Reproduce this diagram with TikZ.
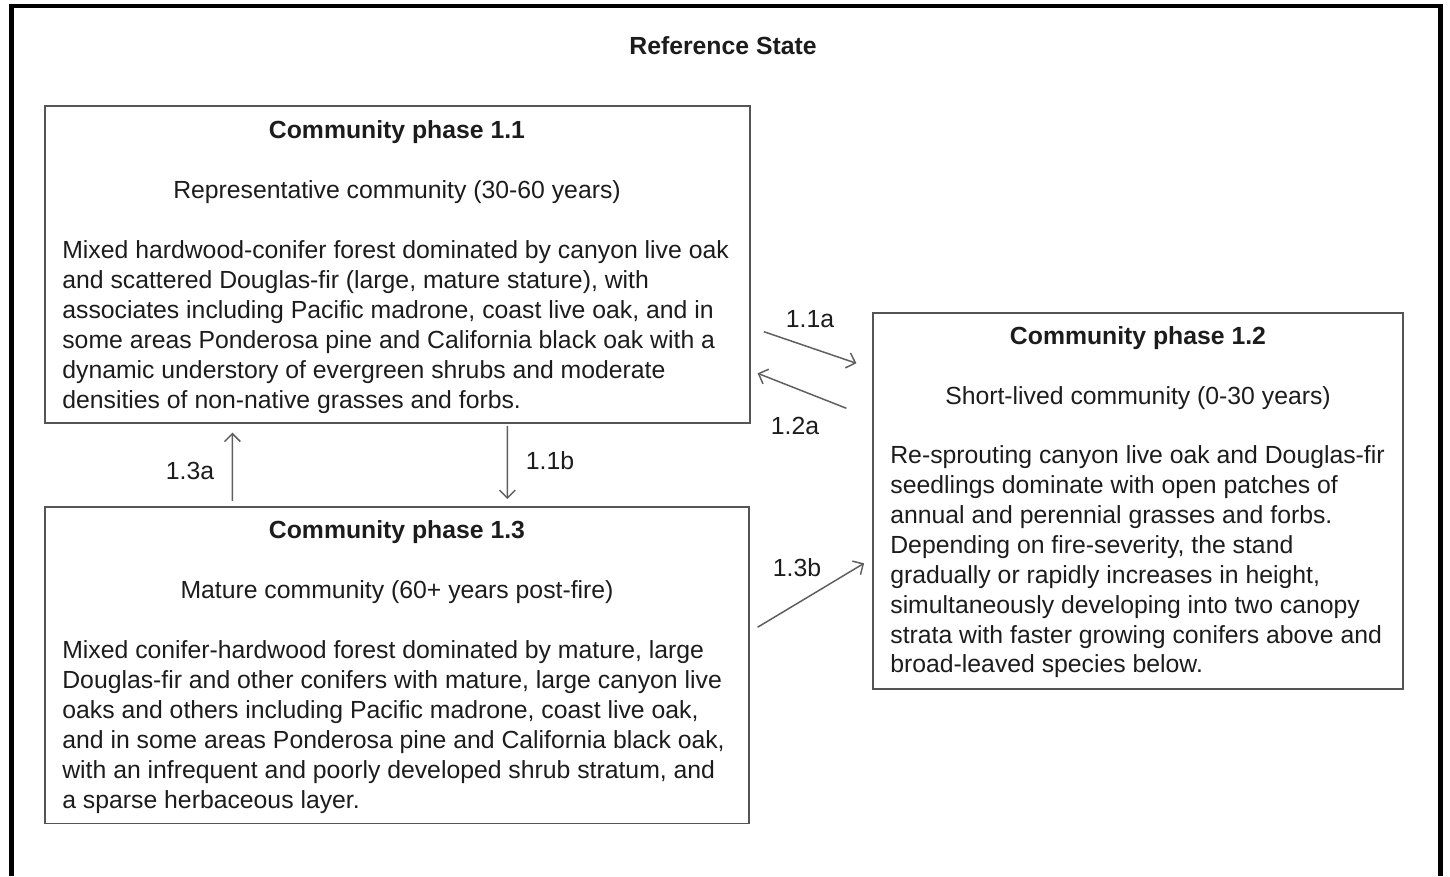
\documentclass[tikz,border=0pt]{standalone}
\usepackage{fontspec}
\setmainfont{Liberation Sans}
\usetikzlibrary{arrows.meta, calc, positioning}
\definecolor{boxgray}{RGB}{85,85,85}
\definecolor{arrowgray}{RGB}{95,95,95}
\definecolor{textdark}{RGB}{28,28,28}

\begin{document}
\begin{tikzpicture}[x=0.02cm, y=0.02cm, >={Straight Barb[length=4.5pt, width=9pt]},
    phase/.style={draw=boxgray, line width=1.1pt, inner sep=0pt},
    txt/.style={text=textdark, font=\fontsize{14.1pt}{17pt}\selectfont, inner sep=0pt},
    bold/.style={txt, font=\fontsize{14.1pt}{17pt}\selectfont\bfseries},
    body/.style={txt, align=left, anchor=west},
    trans/.style={->, arrowgray, line width=0.85pt}]
        \useasboundingbox (0,0) rectangle (1450,876);

        % Outer frame
        \draw[line width=2.3pt] (11.5,0) -- (11.5,870) -- (1440.5,870) -- (1440.5,0);
        \node[bold] (title) at (723,830) {Reference State};

        % Community phase boxes
        \node[phase, minimum width=14.1cm, minimum height=6.34cm] (p11) at (397.5,611.5) {};
        \node[phase, minimum width=14.08cm, minimum height=6.33cm] (p13) at (397,210.75) {};
        \node[phase, minimum width=10.6cm, minimum height=7.52cm] (p12) at (1138,375) {};

        % Phase 1.1
        \node[bold] (t11) at (397,744) {Community phase 1.1};
        \node[txt] (s11) at (397,684) {Representative community (30-60 years)};
        \node[body] (b11) at (62,549) {Mixed hardwood-conifer forest dominated by canyon live oak\\
            and scattered Douglas-fir (large, mature stature), with\\
            associates including Pacific madrone, coast live oak, and in\\
            some areas Ponderosa pine and California black oak with a\\
            dynamic understory of evergreen shrubs and moderate\\
            densities of non-native grasses and forbs.};

        % Phase 1.3
        \node[bold] (t13) at (397,344) {Community phase 1.3};
        \node[txt] (s13) at (397,284) {Mature community (60+ years post-fire)};
        \node[body] (b13) at (62,149) {Mixed conifer-hardwood forest dominated by mature, large\\
            Douglas-fir and other conifers with mature, large canyon live\\
            oaks and others including Pacific madrone, coast live oak,\\
            and in some areas Ponderosa pine and California black oak,\\
            with an infrequent and poorly developed shrub stratum, and\\
            a sparse herbaceous layer.};

        % Phase 1.2
        \node[bold] (t12) at (1138,538) {Community phase 1.2};
        \node[txt] (s12) at (1138,478) {Short-lived community (0-30 years)};
        \node[body] (b12) at (890,314) {Re-sprouting canyon live oak and Douglas-fir\\
            seedlings dominate with open patches of\\
            annual and perennial grasses and forbs.\\
            Depending on fire-severity, the stand\\
            gradually or rapidly increases in height,\\
            simultaneously developing into two canopy\\
            strata with faster growing conifers above and\\
            broad-leaved species below.};

        % Transitions
        \draw[trans] ($(p11.east)+(13,-67.2)$) -- ($(p12.west)+(-15.7,137.7)$);
        \draw[trans] ($(p12.west)+(-25.7,92.7)$) -- ($(p11.east)+(6.7,-108.8)$);
        \draw[trans] ($(p13.north west)+(188.3,5.3)$) -- ($(p11.south west)+(188.3,-8.7)$);
        \draw[trans] ($(p11.south west)+(463.3,-2)$) -- ($(p13.north west)+(463.3,7)$);
        \draw[trans] ($(p13.east)+(7.7,38)$) -- ($(p12.west)+(-8,-62.3)$);

        % Transition labels
        \node[txt] (l11a) at (810,557) {1.1a};
        \node[txt] (l12a) at (795,450) {1.2a};
        \node[txt] (l13a) at (190,405) {1.3a};
        \node[txt] (l11b) at (550,415) {1.1b};
        \node[txt] (l13b) at (797,308) {1.3b};
    \end{tikzpicture}
\end{document}
